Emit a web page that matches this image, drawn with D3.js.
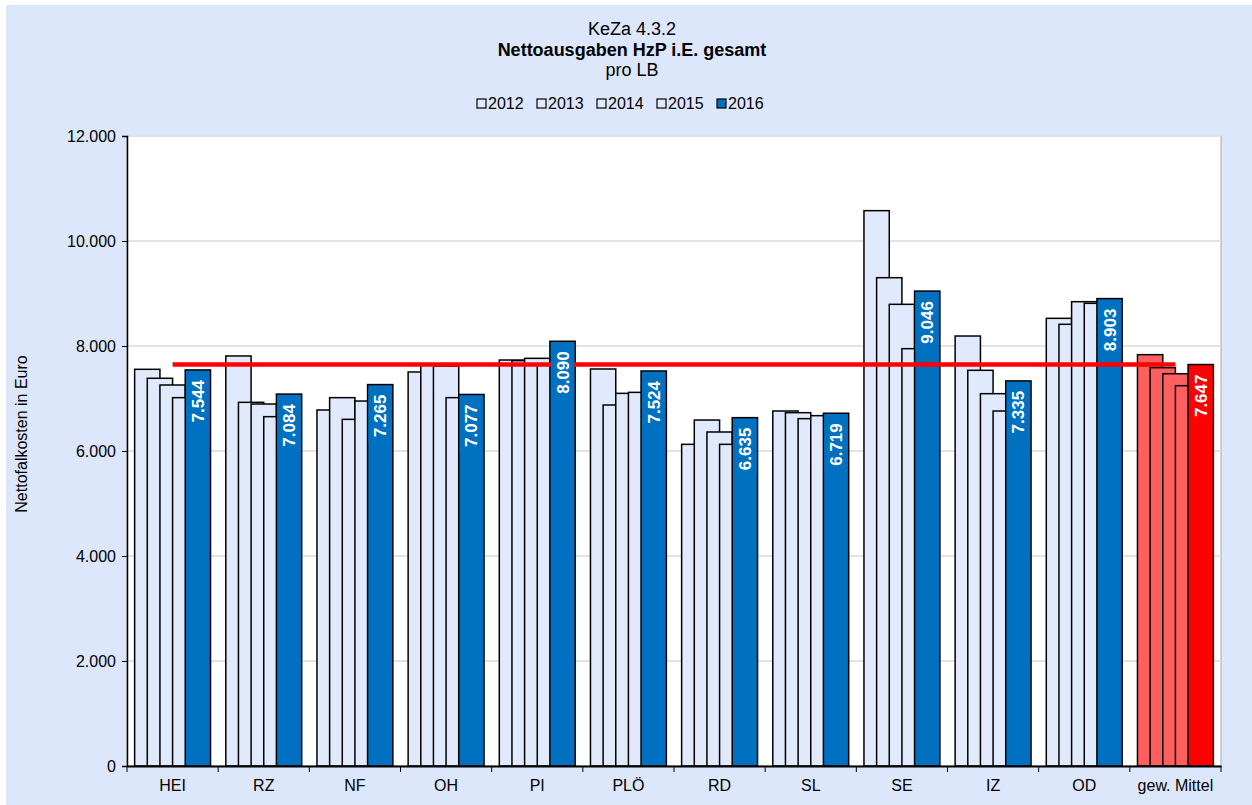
<!DOCTYPE html>
<html>
<head>
<meta charset="utf-8">
<script src="https://cdn.jsdelivr.net/npm/d3@7"></script>
<style>
  html, body { margin: 0; padding: 0; background: #ffffff; }
  svg { display: block; }
  text { font-family: "Liberation Sans", Arial, sans-serif; fill: #000; }
</style>
</head>
<body>
<svg id="chart" width="1252" height="805"></svg>
<script>
// Net expenditure per case (Euro) by district, 2012–2016
const categories = ["HEI", "RZ", "NF", "OH", "PI", "PLÖ", "RD", "SL", "SE", "IZ", "OD", "gew. Mittel"];
const years = ["2012", "2013", "2014", "2015", "2016"];
const v2012 = [7556, 7810, 6781, 7505, 7733, 7562, 6127, 6762, 10578, 8190, 8527, 7835];
const v2013 = [7385, 6927, 7016, 7657, 7720, 6876, 6590, 6730, 9301, 7537, 8413, 7587];
const v2014 = [7257, 6895, 6603, 7619, 7765, 7098, 6362, 6616, 8794, 7092, 8844, 7472];
const v2015 = [7016, 6654, 6952, 7016, 7650, 7117, 6127, 6673, 7949, 6762, 8813, 7244];
const v2016 = [7544, 7084, 7265, 7077, 8090, 7524, 6635, 6719, 9046, 7335, 8903, 7647];
const yTicks = [0, 2000, 4000, 6000, 8000, 10000, 12000];
const averageLabel = "gew. Mittel";
const averageValue = v2016[categories.indexOf(averageLabel)];

const series = [v2012, v2013, v2014, v2015, v2016];

const de = d3.formatLocale({ decimal: ",", thousands: ".", grouping: [3], currency: ["", " €"] });
const fmt = de.format(",.0f");

const svg = d3.select("#chart");
const W = 1252, H = 805;
const plot = { left: 127, right: 1221, top: 136, bottom: 766 };

const colPale = "#E0EAFC";
const colBlue = "#0070C0";
const colRedPale = "#FF5F5F";
const colRed = "#FF0000";

// chart background
svg.append("rect").attr("x", 6).attr("y", 5).attr("width", W - 6).attr("height", H - 5)
  .attr("fill", "#DDE7FB");

// plot area
svg.append("rect")
  .attr("x", plot.left).attr("y", plot.top)
  .attr("width", plot.right - plot.left).attr("height", plot.bottom - plot.top)
  .attr("fill", "#ffffff").attr("stroke", "#A6A6A6").attr("stroke-width", 1);

const x = d3.scaleBand().domain(categories).range([plot.left, plot.right]).padding(0);
const y = d3.scaleLinear().domain([0, 12000]).range([plot.bottom, plot.top]);

// gridlines
svg.append("g").selectAll("line").data(yTicks.filter(t => t > 0)).join("line")
  .attr("x1", plot.left).attr("x2", plot.right)
  .attr("y1", d => y(d)).attr("y2", d => y(d))
  .attr("stroke", "#E3E3E3").attr("stroke-width", 2);

// bars: five overlapping columns per category
const bw = x.bandwidth() * 0.2775;
const step = bw / 2;
const offset = (x.bandwidth() - (bw + step * (years.length - 1))) / 2;

function barFill(yearIdx, cat) {
  const isAvg = cat === averageLabel;
  if (yearIdx === years.length - 1) return isAvg ? colRed : colBlue;
  return isAvg ? colRedPale : colPale;
}

const barsG = svg.append("g");
series.forEach((vals, yi) => {
  barsG.append("g").selectAll("rect").data(categories).join("rect")
    .attr("x", d => x(d) + offset + yi * step)
    .attr("y", (d, i) => y(vals[i]))
    .attr("width", bw)
    .attr("height", (d, i) => y(0) - y(vals[i]))
    .attr("fill", d => barFill(yi, d))
    .attr("stroke", "#000").attr("stroke-width", 1.5);
});

// weighted mean reference line
svg.append("line")
  .attr("x1", x(categories[0]) + x.bandwidth() / 2)
  .attr("x2", x(averageLabel) + x.bandwidth() / 2)
  .attr("y1", y(averageValue)).attr("y2", y(averageValue))
  .attr("stroke", colRed).attr("stroke-width", 4.5);

// value labels on the 2016 columns
const lastIdx = years.length - 1;
const labG = svg.append("g");
categories.forEach((cat, i) => {
  const v = v2016[i];
  const cx = x(cat) + offset + lastIdx * step + bw / 2;
  const top = y(v);
  const t = labG.append("text")
    .attr("transform", `translate(${cx + 6},${top + 10}) rotate(-90)`)
    .attr("text-anchor", "end")
    .style("font-weight", "bold").style("font-size", "17px")
    .style("fill", "#ffffff")
    .text(fmt(v));
  const len = t.node().getComputedTextLength();
  labG.insert("rect", () => t.node())
    .attr("x", cx - bw / 2 + 1).attr("y", top + 4)
    .attr("width", bw - 2).attr("height", len + 12)
    .attr("fill", cat === averageLabel ? colRed : colBlue);
});

// y axis
const yAxis = d3.axisLeft(y).tickValues(yTicks).tickFormat(fmt).tickSize(5).tickPadding(6);
const yG = svg.append("g").attr("transform", `translate(${plot.left},0)`).call(yAxis);
yG.select(".domain").attr("stroke", "#000").attr("stroke-width", 1.5);
yG.selectAll(".tick line").attr("stroke", "#000");
yG.selectAll("text").style("font-size", "16px").style("font-family", "Liberation Sans, Arial, sans-serif");

// x axis
const xAxis = d3.axisBottom(x).tickSize(0).tickPadding(14);
const xG = svg.append("g").attr("transform", `translate(0,${plot.bottom})`).call(xAxis);
xG.select(".domain").attr("stroke", "#000").attr("stroke-width", 2);
xG.selectAll("text").style("font-size", "16px").style("font-family", "Liberation Sans, Arial, sans-serif");
// category separators
xG.append("g").selectAll("line").data(categories.concat([null])).join("line")
  .attr("x1", (d, i) => i < categories.length ? x(d) : plot.right)
  .attr("x2", (d, i) => i < categories.length ? x(d) : plot.right)
  .attr("y1", 0).attr("y2", 6)
  .attr("stroke", "#000").attr("stroke-width", 1);

// axis title
svg.append("text")
  .attr("transform", `translate(27,434) rotate(-90)`)
  .attr("text-anchor", "middle")
  .style("font-size", "16px")
  .text("Nettofalkosten in Euro");

// titles
const cxTitle = 632;
svg.append("text").attr("x", cxTitle).attr("y", 35).attr("text-anchor", "middle")
  .style("font-size", "18px").text("KeZa 4.3.2");
svg.append("text").attr("x", cxTitle).attr("y", 56).attr("text-anchor", "middle")
  .style("font-size", "18px").style("font-weight", "bold").text("Nettoausgaben HzP i.E. gesamt");
svg.append("text").attr("x", cxTitle).attr("y", 76).attr("text-anchor", "middle")
  .style("font-size", "18px").text("pro LB");

// legend
const legG = svg.append("g");
const legX0 = 477, legStep = 60;
years.forEach((yr, i) => {
  const gx = legX0 + i * legStep;
  legG.append("rect").attr("x", gx).attr("y", 99).attr("width", 9).attr("height", 9)
    .attr("fill", i === lastIdx ? colBlue : colPale).attr("stroke", "#000").attr("stroke-width", 1.2);
  legG.append("text").attr("x", gx + 11).attr("y", 109)
    .style("font-size", "16px").text(yr);
});
</script>
</body>
</html>
